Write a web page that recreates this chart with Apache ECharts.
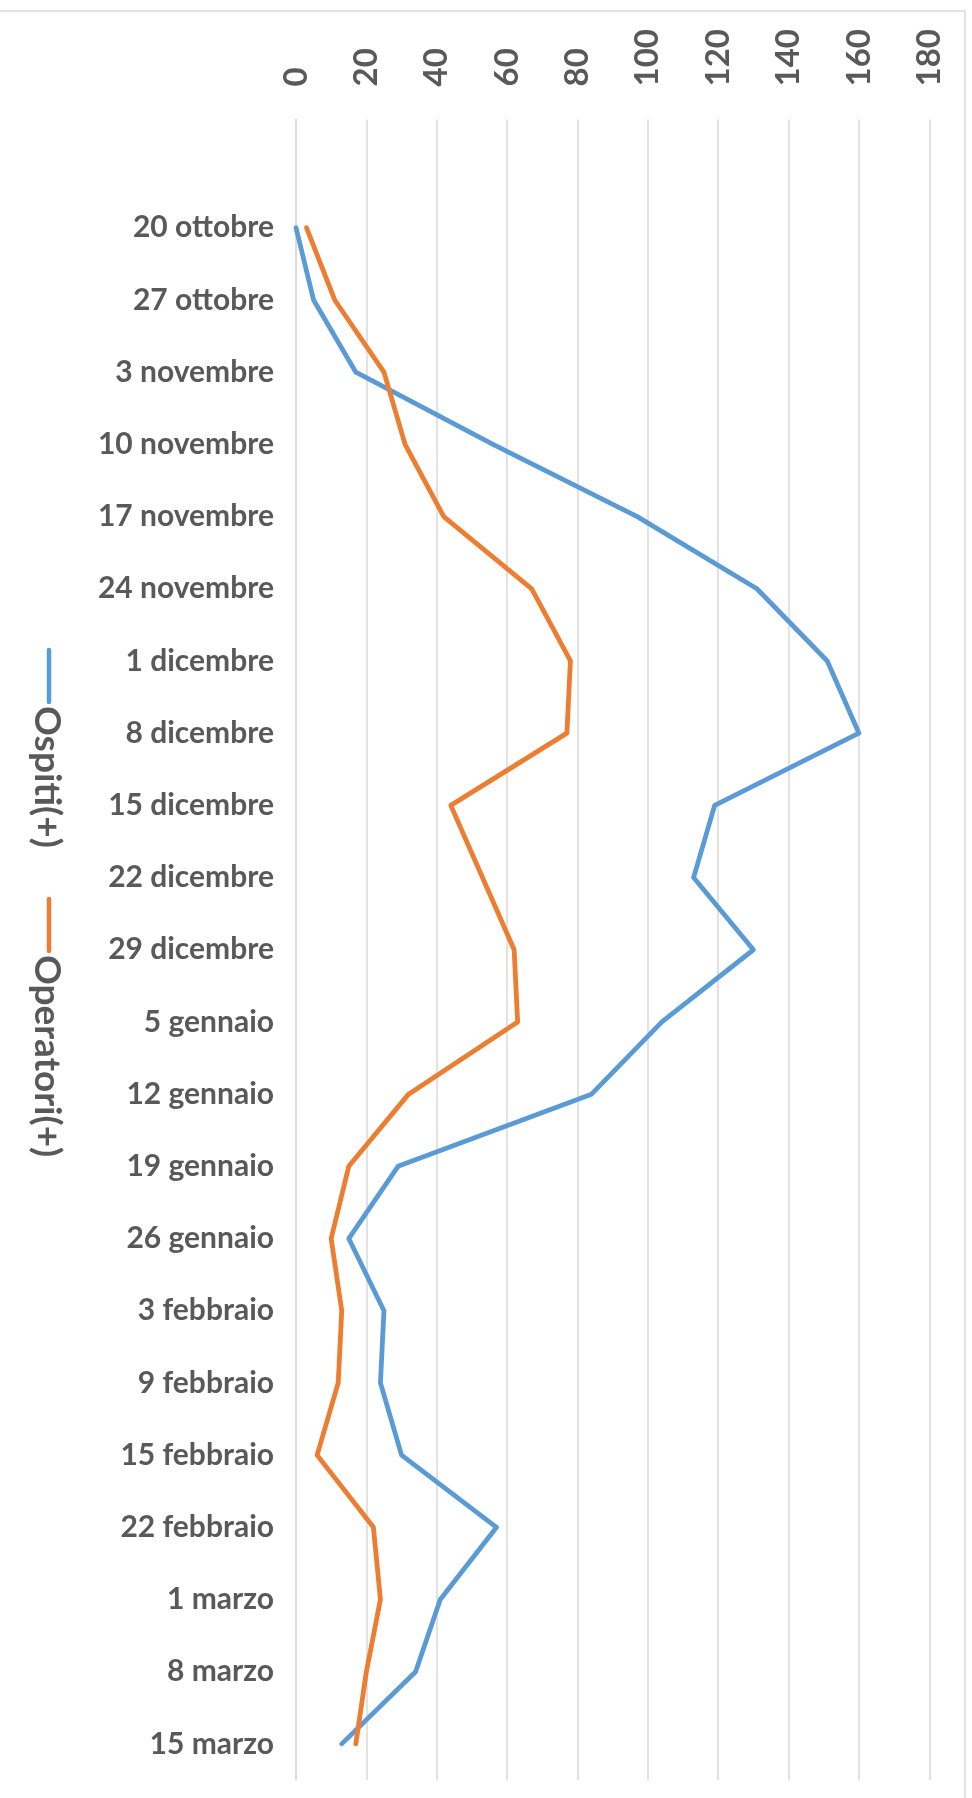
<!DOCTYPE html>
<html>
<head>
<meta charset="utf-8">
<script src="https://cdn.jsdelivr.net/npm/echarts@6/dist/echarts.min.js"></script>
<style>
  html, body { margin: 0; padding: 0; background: #ffffff; }
  #chart { width: 972px; height: 1798px; }
</style>
</head>
<body>
<div id="chart"></div>
<script>
// Weekly dates (first row is an empty slot above the first week)
const categories = ['', '20 ottobre', '27 ottobre', '3 novembre', '10 novembre', '17 novembre',
  '24 novembre', '1 dicembre', '8 dicembre', '15 dicembre', '22 dicembre', '29 dicembre',
  '5 gennaio', '12 gennaio', '19 gennaio', '26 gennaio', '3 febbraio', '9 febbraio',
  '15 febbraio', '22 febbraio', '1 marzo', '8 marzo', '15 marzo'];

// Positive cases per week
const ospiti = [null, 0, 5, 17, 56, 97, 131, 151, 160, 119, 113, 130, 104, 84, 29, 15, 25, 24, 30, 57, 41, 34, 13];
const operatori = [null, 3, 11, 25, 31, 42, 67, 78, 77, 44, 53, 62, 63, 32, 15, 10, 13, 12, 6, 22, 24, 20, 17];

// Value axis range
const valueMin = 0;
const valueMax = 180;
const valueStep = 20;

const seriesNames = ['Ospiti(+)', 'Operatori(+)'];
const seriesColors = ['#5B9BD5', '#ED7D31'];

const FONT = 'Lato, "Open Sans", sans-serif';
const TEXT_COLOR = '#595959';
const GRID_COLOR = '#d9d9d9';

const chart = echarts.init(document.getElementById('chart'), null, { renderer: 'canvas' });

// Vertical legend drawn as rotated text next to a short line key
function legendItem(idx, y0) {
  return [
    {
      type: 'line',
      shape: { x1: 49, y1: y0, x2: 49, y2: y0 + 52 },
      style: { stroke: seriesColors[idx], lineWidth: 4.5, lineCap: 'round' }
    },
    {
      type: 'text',
      x: 47, y: y0 + 56,
      rotation: -Math.PI / 2,
      style: {
        text: seriesNames[idx],
        font: 'bold 37px ' + FONT,
        fill: TEXT_COLOR,
        textAlign: 'left',
        textVerticalAlign: 'middle'
      }
    }
  ];
}

chart.setOption({
  animation: false,
  backgroundColor: '#ffffff',
  grid: { left: 296, right: 42.7, top: 119.5, bottom: 18, containLabel: false },
  xAxis: {
    type: 'value',
    position: 'top',
    min: valueMin,
    max: valueMax,
    interval: valueStep,
    axisLine: { show: false },
    axisTick: { show: false },
    splitLine: { show: true, lineStyle: { color: GRID_COLOR, width: 1.5 } },
    axisLabel: {
      rotate: -90,
      margin: 33,
      fontFamily: FONT,
      fontWeight: 'bold',
      fontSize: 33,
      color: TEXT_COLOR
    }
  },
  yAxis: {
    type: 'category',
    inverse: true,
    data: categories,
    boundaryGap: true,
    axisLine: { show: true, lineStyle: { color: GRID_COLOR, width: 1.5 } },
    axisTick: { show: false },
    axisLabel: {
      margin: 22,
      fontFamily: FONT,
      fontWeight: 'bold',
      fontSize: 30,
      color: TEXT_COLOR,
      interval: 0
    }
  },
  series: [
    {
      name: seriesNames[0],
      type: 'line',
      data: ospiti,
      showSymbol: false,
      lineStyle: { color: seriesColors[0], width: 4.8, cap: 'round', join: 'round' },
      itemStyle: { color: seriesColors[0] }
    },
    {
      name: seriesNames[1],
      type: 'line',
      data: operatori,
      showSymbol: false,
      lineStyle: { color: seriesColors[1], width: 4.8, cap: 'round', join: 'round' },
      itemStyle: { color: seriesColors[1] }
    }
  ],
  graphic: [
    {
      type: 'rect',
      shape: { x: -10, y: 11, width: 975, height: 1800 },
      style: { fill: 'none', stroke: GRID_COLOR, lineWidth: 1.5 },
      silent: true
    },
    ...legendItem(0, 650),
    ...legendItem(1, 899)
  ]
});
</script>
</body>
</html>
